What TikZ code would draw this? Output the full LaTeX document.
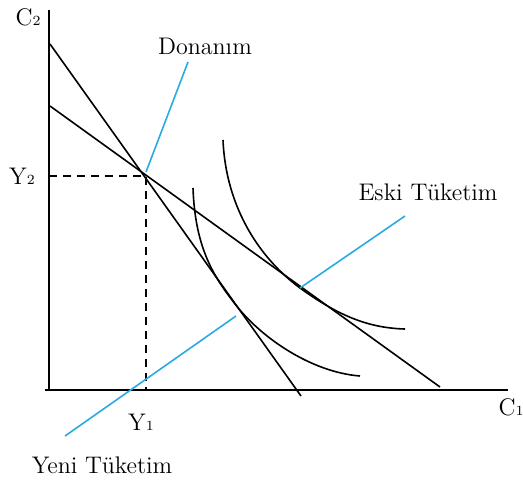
\documentclass[tikz,border=0pt]{standalone}
\usepackage{tikz}
\usetikzlibrary{arrows.meta, positioning}
\definecolor{leader}{RGB}{41,171,226}
\newcommand{\lowidx}[1]{{\scriptsize #1}}

\begin{document}
\begin{tikzpicture}[x=0.5pt, y=-0.5pt, font=\fontsize{12}{14}\selectfont,
  axis/.style={line width=0.9pt},
  budget/.style={line width=0.8pt},
  curve/.style={line width=0.8pt},
  guide/.style={dashed, line width=0.9pt, dash pattern=on 4pt off 3pt},
  pointer/.style={leader, line width=0.8pt},
  lbl/.style={inner sep=1pt}]
  \useasboundingbox (0,0) rectangle (523,483);

  % eksenler
  \coordinate (o) at (49,390);
  \coordinate (ytop) at (49,10);
  \coordinate (xend) at (508,390);
  \coordinate (xstart) at (45,390);
  \draw[axis] (ytop) -- (o);
  \draw[axis] (xstart) -- (xend);
  \node[lbl] (c2) at (28,17) {C\lowidx{2}};
  \node[lbl] (c1) at (511,407) {C\lowidx{1}};

  % bütçe doğruları
  \coordinate (s1) at (50,44);
  \coordinate (s2) at (301,396);
  \coordinate (f1) at (50,106);
  \coordinate (f2) at (440,387);
  \draw[budget] (s1) -- (s2);
  \draw[budget] (f1) -- (f2);

  % donanım noktası
  \coordinate (e) at (146,176);
  \coordinate (ey) at (49,176);
  \coordinate (ex) at (146,390);
  \draw[guide] (ey) -- (e) -- (ex);
  \node[lbl] (y2) at (22,176) {Y\lowidx{2}};
  \node[lbl] (y1) at (141,422) {Y\lowidx{1}};

  % kayıtsızlık eğrileri
  \draw[curve] (193,188) .. controls (195,245) and (212,274) .. (232,300)
    .. controls (258,336) and (310,372) .. (360,376);
  \draw[curve] (223,140) .. controls (226,210) and (262,260) .. (300,288)
    .. controls (340,317) and (370,328) .. (405,329);

  % etiketler
  \node[lbl] (don) at (205,46) {Donanım};
  \node[lbl] (eski) at (428,192) {Eski Tüketim};
  \node[lbl] (yeni) at (102,465) {Yeni Tüketim};

  \coordinate (donend) at (188,62);
  \coordinate (donpt) at (146,172);
  \coordinate (eskiend) at (405,216);
  \coordinate (eskipt) at (300,288);
  \coordinate (yeniend) at (65,436);
  \coordinate (yenipt) at (236,316);
  \draw[pointer] (donpt) -- (donend);
  \draw[pointer] (eskipt) -- (eskiend);
  \draw[pointer] (yeniend) -- (yenipt);
\end{tikzpicture}
\end{document}
